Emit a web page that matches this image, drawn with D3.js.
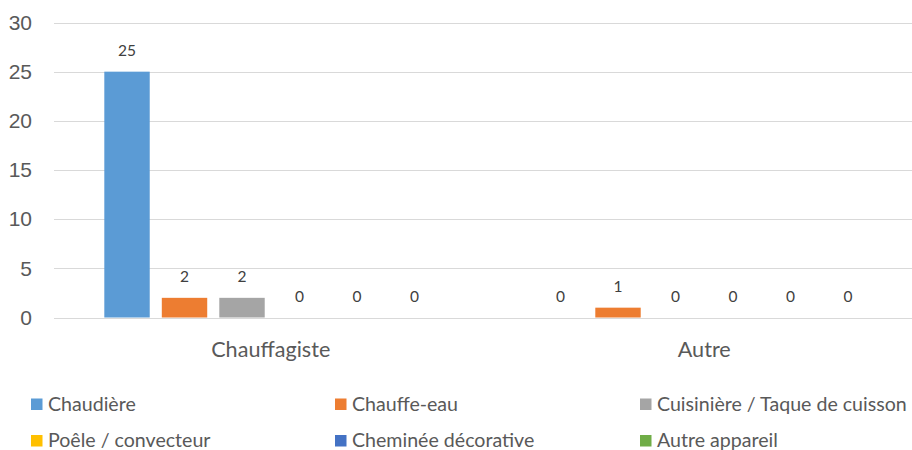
<!DOCTYPE html>
<html lang="fr">
<head>
<meta charset="UTF-8">
<title>Chart</title>
<script src="https://cdn.jsdelivr.net/npm/d3@7"></script>
<style>
  body { margin: 0; background: #fff; }
  svg { display: block; font-family: Lato, "Open Sans", sans-serif; }
  .grid line { stroke: #d9d9d9; stroke-width: 1.3; shape-rendering: crispEdges; }
  .yAxis text { fill: #595959; font-size: 21px; }
  .xLabel { fill: #595959; font-size: 21.6px; }
  .valLabel { fill: #404040; font-size: 15.5px; }
  .legText { fill: #595959; font-size: 19.6px; }
</style>
</head>
<body>
<div id="root"></div>
<script>
  // données
  const categories = ["Chauffagiste", "Autre"]
  const series = ["Chaudière", "Chauffe-eau", "Cuisinière / Taque de cuisson", "Poêle / convecteur", "Cheminée décorative", "Autre appareil"]
  const colors = ["#5b9bd5", "#ed7d31", "#a5a5a5", "#ffc000", "#4472c4", "#70ad47"]
  const valChauffagiste = [25, 2, 2, 0, 0, 0]
  const valAutre = [0, 1, 0, 0, 0, 0]
  const yTicks = [0, 5, 10, 15, 20, 25, 30]

  const values = [valChauffagiste, valAutre]

  const width = 912, height = 450
  const plotLeft = 54, plotRight = 921   // la zone de tracé déborde à droite
  const plotTop = 22.5, plotBottom = 317.5

  const svg = d3.select("#root").append("svg").attr("width", width).attr("height", height)

  const x0 = d3.scaleBand().domain(categories).range([plotLeft, plotRight]).padding(0)
  const x1 = d3.scaleBand().domain(series).range([0, x0.bandwidth()])
      .paddingInner(0.21).paddingOuter(0.875)
  const y = d3.scaleLinear().domain([0, 30]).range([plotBottom, plotTop])

  // lignes de grille
  svg.append("g").attr("class", "grid")
    .selectAll("line").data(yTicks).enter().append("line")
    .attr("x1", plotLeft).attr("x2", width)
    .attr("y1", d => Math.round(y(d)) + 0.5).attr("y2", d => Math.round(y(d)) + 0.5)

  // axe y
  const yAxis = d3.axisLeft(y).tickValues(yTicks).tickSize(0).tickPadding(22)
  const gy = svg.append("g").attr("class", "yAxis")
    .attr("transform", `translate(${plotLeft},0)`).call(yAxis)
  gy.select(".domain").remove()
  gy.selectAll("text").attr("font-family", null).attr("font-size", null)

  // barres
  const groups = svg.selectAll("g.cat").data(categories).enter().append("g")
    .attr("class", "cat").attr("transform", d => `translate(${x0(d)},0)`)

  groups.selectAll("rect").data((c, i) => series.map((s, j) => ({ s, v: values[i][j], c: colors[j] })))
    .enter().append("rect")
    .attr("x", d => x1(d.s)).attr("width", x1.bandwidth())
    .attr("y", d => y(d.v)).attr("height", d => y(0) - y(d.v))
    .attr("fill", d => d.c)

  groups.selectAll("text.valLabel").data((c, i) => series.map((s, j) => ({ s, v: values[i][j] })))
    .enter().append("text").attr("class", "valLabel")
    .attr("x", d => x1(d.s) + x1.bandwidth() / 2)
    .attr("y", d => y(d.v) - 16)
    .attr("text-anchor", "middle")
    .text(d => d.v)

  // libellés des catégories
  svg.selectAll("text.xLabel").data(categories).enter().append("text")
    .attr("class", "xLabel")
    .attr("x", d => x0(d) + x0.bandwidth() / 2)
    .attr("y", 357)
    .attr("text-anchor", "middle")
    .text(d => d)

  // légende
  const legX = [31, 335, 640], legY = [398.5, 435]
  const leg = svg.selectAll("g.leg").data(series).enter().append("g")
    .attr("class", "leg")
    .attr("transform", (d, i) => `translate(${legX[i % 3]},${legY[Math.floor(i / 3)]})`)
  leg.append("rect").attr("width", 11.5).attr("height", 11.5).attr("fill", (d, i) => colors[i])
  leg.append("text").attr("class", "legText").attr("x", 17).attr("y", 12).text(d => d)
</script>
</body>
</html>
